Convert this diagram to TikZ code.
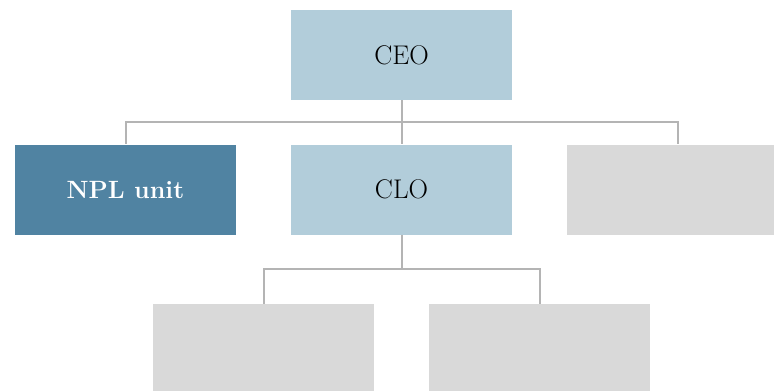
\documentclass[tikz,border=0pt]{standalone}
\usepackage{fontspec}
\definecolor{lightbox}{RGB}{178,205,218}
\definecolor{darkbox}{RGB}{80,131,162}
\definecolor{greybox}{RGB}{217,217,217}
\definecolor{busline}{RGB}{180,180,180}
\tikzset{
  orgbox/.style={minimum width=221pt, minimum height=90pt, inner sep=0pt,
    font=\fontsize{27}{32}\selectfont},
  link/.style={draw=busline, line width=2pt}
}
\begin{document}
\begin{tikzpicture}[x=1pt, y=-1pt]
  \clip (0, 0) rectangle (774, 391);
  \fill[white] (0, 0) rectangle (774, 391);

  % Top level
  \node[orgbox, fill=lightbox] (ceo) at (401.5, 55) {CEO};

  % Second level
  \node[orgbox, fill=darkbox, text=white, font=\fontsize{25}{30}\selectfont\bfseries] (npl) at (125.5, 189.5) {NPL unit};
  \node[orgbox, fill=lightbox] (clo) at (401.5, 189.5) {CLO};
  \node[orgbox, fill=greybox] (right) at (677.5, 189.5) {};

  % Third level
  \node[orgbox, fill=greybox] (low1) at (263.5, 349) {};
  \node[orgbox, fill=greybox] (low2) at (539.5, 349) {};

  \coordinate (bus1) at (401.5, 122);
  \coordinate (bus2) at (401.5, 269);

  \draw[link] (ceo.south) -- (bus1);
  \draw[link] (bus1) -| (npl.north);
  \draw[link] (bus1) -| (right.north);
  \draw[link] (bus1) -- (clo.north);

  \draw[link] (clo.south) -- (bus2);
  \draw[link] (bus2) -| (low1.north);
  \draw[link] (bus2) -| (low2.north);
\end{tikzpicture}
\end{document}
